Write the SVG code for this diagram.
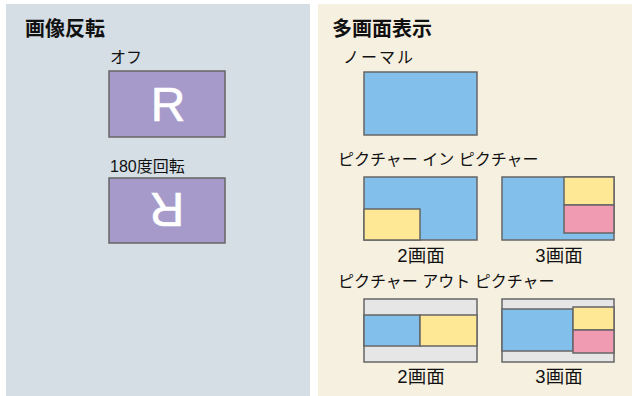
<svg xmlns="http://www.w3.org/2000/svg" width="635" height="396" viewBox="0 0 635 396">
<style>
.t{font-family:"Liberation Sans","Noto Sans CJK JP",sans-serif;fill:#111}
.h{font-size:20px;font-weight:bold}
.l{font-size:16px}
.c{font-size:18.5px;text-anchor:middle}
.s{stroke:#666;stroke-width:1.5}
.blue{fill:#82c0eb}
.yel{fill:#fee795}
.pink{fill:#f09bb2}
.gray{fill:#e6e6e6}
.pur{fill:#a69acb}
.r{font-family:"Liberation Sans",sans-serif;font-size:48px;fill:#fff;stroke:#fff;stroke-width:0.6;text-anchor:middle}
</style>
<rect x="6" y="4" width="304" height="392" fill="#d4dee4"/>
<rect x="318" y="4" width="314" height="392" fill="#f6f0e0"/>
<g id="flip">
<text class="t h" x="25" y="36">画像反転</text>
<g id="off">
<text class="t l" x="110" y="63">オフ</text>
<rect class="pur s" x="109" y="71" width="116" height="66"/>
<text class="r" x="168" y="121">R</text>
</g>
<g id="rot180">
<text class="t l" x="110" y="172">180度回転</text>
<rect class="pur s" x="109" y="178" width="116" height="65"/>
<text class="r" x="167" y="228" transform="rotate(180 167 210.5)">R</text>
</g>
</g>
<g id="multi">
<text class="t h" x="332" y="36">多画面表示</text>
<g id="normal">
<text class="t l" x="343" y="63" letter-spacing="2">ノーマル</text>
<rect class="blue s" x="364" y="72" width="113" height="63"/>
</g>
<g id="pip">
<text class="t l" x="338" y="165">ピクチャー イン ピクチャー</text>
<g id="pip2">
<rect class="blue s" x="364" y="177" width="113" height="63"/>
<rect class="yel s" x="364" y="209" width="56" height="31"/>
<text class="t c" x="421" y="262">2画面</text>
</g>
<g id="pip3">
<rect class="blue s" x="502" y="177" width="112" height="63"/>
<rect class="yel s" x="564" y="177" width="50" height="28"/>
<rect class="pink s" x="564" y="205" width="50" height="28"/>
<text class="t c" x="559" y="262">3画面</text>
</g>
</g>
<g id="pop">
<text class="t l" x="338" y="287">ピクチャー アウト ピクチャー</text>
<g id="pop2">
<rect class="gray s" x="364" y="299" width="113" height="63"/>
<rect class="blue s" x="364" y="315" width="56" height="31"/>
<rect class="yel s" x="420" y="315" width="57" height="31"/>
<text class="t c" x="421" y="383">2画面</text>
</g>
<g id="pop3">
<rect class="gray s" x="502" y="299" width="112" height="63"/>
<rect class="blue s" x="502" y="309" width="71" height="42"/>
<rect class="yel s" x="573" y="307" width="41" height="23"/>
<rect class="pink s" x="573" y="330" width="41" height="23"/>
<text class="t c" x="559" y="383">3画面</text>
</g>
</g>
</g>
</svg>
